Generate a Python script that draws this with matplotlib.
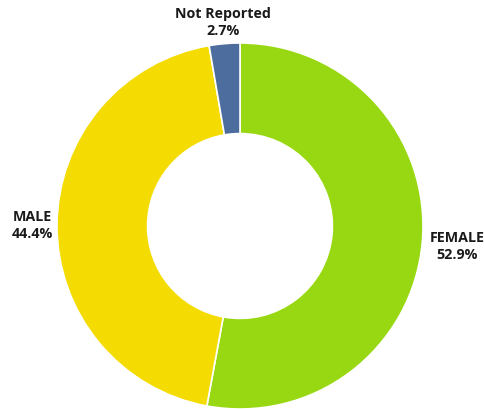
import matplotlib.pyplot as plt
import numpy as np

labels = ['FEMALE', 'MALE', 'Not Reported']
values = [52.9, 44.4, 2.7]
colors = ['#98d812', '#f4dc02', '#4d6d9e']
label_dist = [1.19, 1.135, 1.12]

plt.rcParams['font.family'] = ['Open Sans', 'DejaVu Sans']

fig = plt.figure(figsize=(4.84, 4.10), dpi=100)
ax = fig.add_axes([57 / 484, 0.0, 366 / 484, 366 / 410])
wedges, _ = ax.pie(values, colors=colors, startangle=90, counterclock=False,
                   radius=1.0, wedgeprops=dict(width=0.495, edgecolor='white', linewidth=1.2))
ax.set_xlim(-1, 1)
ax.set_ylim(-1, 1)
ax.set_aspect('equal')
ax.axis('off')

for w, lab, val, d in zip(wedges, labels, values, label_dist):
    ang = np.deg2rad((w.theta1 + w.theta2) / 2)
    ax.text(d * np.cos(ang), d * np.sin(ang), '%s\n%.1f%%' % (lab, val),
            ha='center', va='center', fontsize=10.3, fontweight='bold',
            linespacing=1.3, color='#1a1a1a', clip_on=False)

fig.savefig('out.png', dpi=100)
